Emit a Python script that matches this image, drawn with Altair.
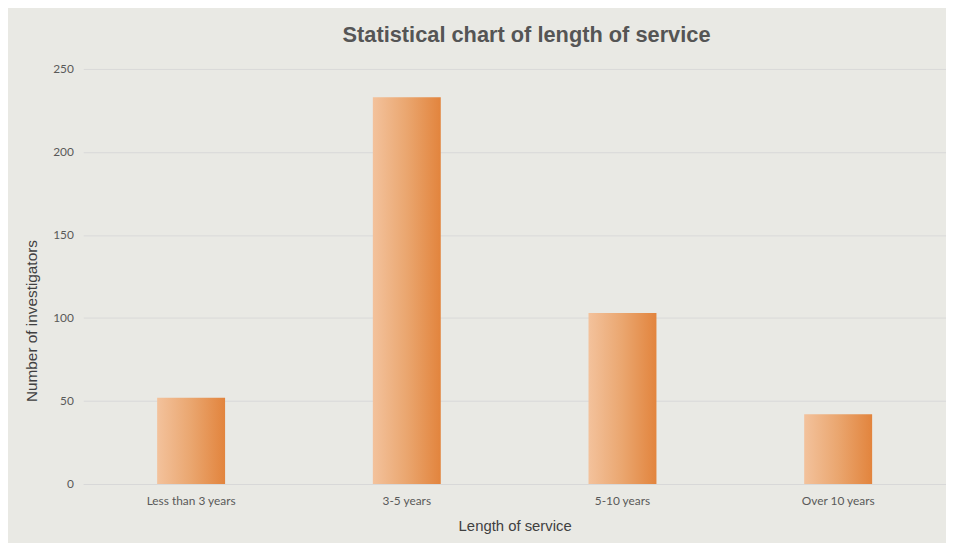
import altair as alt
import pandas as pd

categories = ["Less than 3 years", "3-5 years", "5-10 years", "Over 10 years"]
values = [52, 233, 103, 42]

df = pd.DataFrame({"category": categories, "count": values})

bar_gradient = alt.LinearGradient(
    gradient="linear",
    stops=[
        alt.GradientStop(color="#f3c29c", offset=0),
        alt.GradientStop(color="#eaa66f", offset=0.5),
        alt.GradientStop(color="#e2843d", offset=1),
    ],
    x1=0, x2=1, y1=0, y2=0,
)

chart = alt.Chart(df).mark_bar(color=bar_gradient).encode(
    x=alt.X(
        "category:N",
        sort=categories,
        scale=alt.Scale(paddingInner=0.685, paddingOuter=0.3425),
        axis=alt.Axis(
            title="Length of service",
            labelAngle=0,
            labelFont="Lato",
            labelFontSize=12,
            labelColor="#595959",
            labelPadding=12,
            ticks=False,
            domain=True,
            domainColor="#d9d9d9",
            titleFont="Liberation Sans",
            titleFontSize=15,
            titleFontWeight="normal",
            titleColor="#404040",
            titlePadding=12,
        ),
    ),
    y=alt.Y(
        "count:Q",
        scale=alt.Scale(domain=[0, 250]),
        axis=alt.Axis(
            title="Number of investigators",
            values=[0, 50, 100, 150, 200, 250],
            labelFont="Lato",
            labelFontSize=12,
            labelColor="#595959",
            labelPadding=10,
            ticks=False,
            domain=False,
            grid=True,
            gridColor="#d9d9d9",
            titleFont="Liberation Sans",
            titleFontSize=15.5,
            titleFontWeight="normal",
            titleColor="#404040",
            titleX=-44,
            titleY=254,
        ),
    ),
).properties(
    width=871,
    height=419,
    title=alt.TitleParams(
        text="Statistical chart of length of service",
        font="Liberation Sans",
        fontSize=22,
        fontWeight="bold",
        color="#555555",
        anchor="middle",
        dx=12,
        offset=16,
    ),
    autosize=alt.AutoSizeParams(type="none"),
    padding={"left": 76, "top": 59, "right": 0, "bottom": 57},
    background="#e9e9e4",
).configure_view(stroke=None)

chart.save("out.html", embed_options={"renderer": "svg", "actions": False})
